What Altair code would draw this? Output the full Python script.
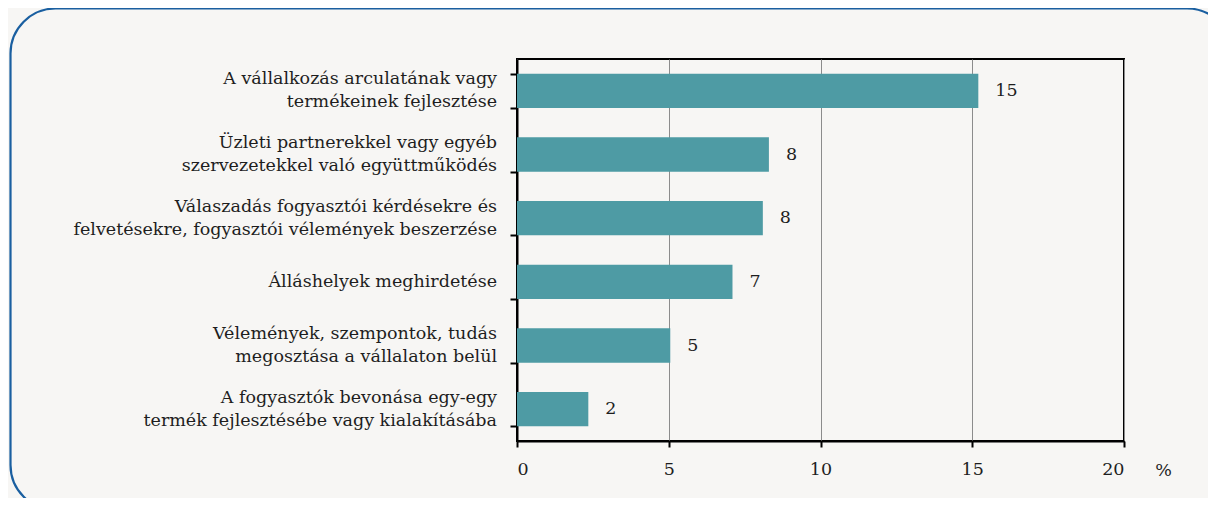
import altair as alt
import pandas as pd

categories = [
    "A vállalkozás arculatának vagy|termékeinek fejlesztése",
    "Üzleti partnerekkel vagy egyéb|szervezetekkel való együttműködés",
    "Válaszadás fogyasztói kérdésekre és|felvetésekre, fogyasztói vélemények beszerzése",
    "Álláshelyek meghirdetése",
    "Vélemények, szempontok, tudás|megosztása a vállalaton belül",
    "A fogyasztók bevonása egy-egy|termék fejlesztésébe vagy kialakításába",
]
values = [15.2, 8.3, 8.1, 7.1, 5.05, 2.35]
value_labels = ["15", "8", "8", "7", "5", "2"]

df = pd.DataFrame({"cat": categories, "val": values, "lab": value_labels})

FONT = "DejaVu Serif"
FS = 17.5
LH = 23
TEXT = "#1e1e1e"

y_enc = alt.Y(
    "cat:N",
    sort=categories,
    scale=alt.Scale(paddingInner=0.46, paddingOuter=0.23),
    axis=alt.Axis(
        title=None,
        labels=False,
        tickBand="extent",
        tickSize=7,
        tickColor="black",
        tickWidth=2,
        domainColor="black",
        domainWidth=2,
        grid=False,
    ),
)
y_plain = alt.Y("cat:N", sort=categories)

x_enc = alt.X(
    "val:Q",
    scale=alt.Scale(domain=[0, 20], nice=False),
    axis=alt.Axis(
        values=[0, 5, 10, 15, 20],
        title="%",
        titleX=646,
        titleY=34,
        titleFont=FONT,
        titleFontSize=FS,
        titleFontWeight="normal",
        titleColor=TEXT,
        titleAnchor="start",
        titleAlign="center",
        titleBaseline="alphabetic",
        labelFont=FONT,
        labelFontSize=FS,
        labelColor=TEXT,
        labelPadding=13,
        tickSize=6,
        tickColor="black",
        tickWidth=2,
        domainColor="black",
        domainWidth=2,
        grid=True,
        gridColor="#8c8c8c",
        gridWidth=1,
    ),
)

base = alt.Chart(df)

bars = base.mark_bar(color="#4e9ba4").encode(x=x_enc, y=y_enc)

texts = base.mark_text(
    align="left", baseline="middle", dx=17, font=FONT, fontSize=FS, color=TEXT
).encode(x="val:Q", y=y_plain, text="lab:N")

lab_base = base.transform_calculate(
    parts="split(datum.cat, '|')"
).transform_calculate(
    n="length(datum.parts)",
    l1="datum.parts[0]",
    l2="length(datum.parts) > 1 ? datum.parts[1] : ''",
)


def ylab(field, cond, dy):
    return (
        lab_base.transform_filter(cond)
        .mark_text(align="right", baseline="middle", dy=dy, font=FONT,
                   fontSize=FS, color=TEXT)
        .encode(x=alt.value(-20), y=y_plain, text=f"{field}:N")
    )


lab_single = ylab("l1", "datum.n == 1", 0)
lab_top = ylab("l1", "datum.n > 1", -LH / 2)
lab_bot = ylab("l2", "datum.n > 1", LH / 2)

frame = alt.Chart(pd.DataFrame({"k": [0]})).mark_rect(
    fill=None, stroke="#1a5fa0", strokeWidth=2.2, cornerRadius=45, clip=False
).encode(
    x=alt.value(-506.5), x2=alt.value(715), y=alt.value(-50.5), y2=alt.value(451)
)

chart = (
    alt.layer(frame, bars, texts, lab_single, lab_top, lab_bot)
    .properties(
        width=607,
        height=382,
        background="#f7f6f4",
        padding={"left": 509, "top": 51, "right": 84, "bottom": 57},
        autosize=alt.AutoSizeParams(type="none"),
    )
    .configure_view(stroke="black", strokeWidth=2)
)

chart.save("out.html", embed_options={"renderer": "svg", "actions": False})
